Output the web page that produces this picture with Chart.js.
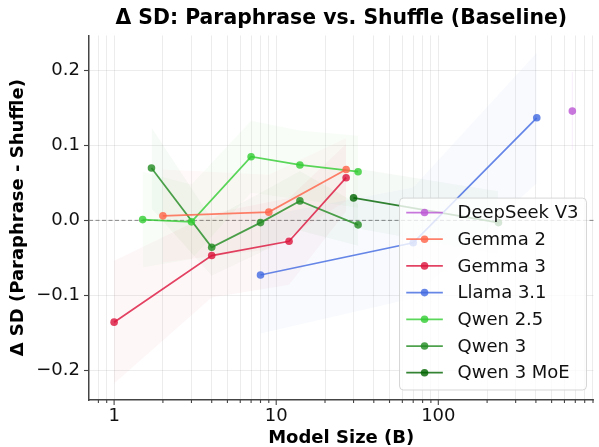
<!DOCTYPE html>
<html>
<head>
<meta charset="utf-8">
<script src="https://cdn.jsdelivr.net/npm/chart.js@4.4.1/dist/chart.umd.min.js"></script>
<style>
html, body { margin: 0; padding: 0; background: #fff; }
#wrap { width: 599px; height: 447px; }
</style>
</head>
<body>
<div id="wrap"><canvas id="deltaChart"></canvas></div>
<script>
// values (model size in B, delta SD, half width of shaded band)
var deepseekSize = [671];
var deepseekDelta = [0.146];
var deepseekErr = [0.052];

var gemma2Size = [2, 9, 27];
var gemma2Delta = [0.006, 0.011, 0.068];
var gemma2Err = [0.062, 0.05, 0.042];

var gemma3Size = [1, 4, 12, 27];
var gemma3Delta = [-0.136, -0.047, -0.028, 0.057];
var gemma3Err = [0.082, 0.056, 0.058, 0.045];

var llamaSize = [8, 70, 405];
var llamaDelta = [-0.073, -0.030, 0.137];
var llamaErr = [0.078, 0.074, 0.087];

var qwen25Size = [1.5, 3, 7, 14, 32];
var qwen25Delta = [0.001, -0.002, 0.085, 0.074, 0.065];
var qwen25Err = [0.064, 0.05, 0.048, 0.046, 0.048];

var qwen3Size = [1.7, 4, 8, 14, 32];
var qwen3Delta = [0.070, -0.036, -0.003, 0.026, -0.006];
var qwen3Err = [0.054, 0.038, 0.04, 0.04, 0.028];

var qwen3moeSize = [30, 235];
var qwen3moeDelta = [0.030, -0.003];
var qwen3moeErr = [0.04, 0.042];

var xMajor = [1, 10, 100];
var xGrid = [0.8, 0.9, 1, 2, 3, 4, 5, 6, 7, 8, 9, 10, 20, 30, 40, 50, 60, 70, 80, 90,
             100, 200, 300, 400, 500, 600, 700, 800, 900];
var yTicks = [-0.2, -0.1, 0, 0.1, 0.2];

var series = [
    { label: 'DeepSeek V3', rgb: '186, 85, 211', size: deepseekSize, delta: deepseekDelta, err: deepseekErr },
    { label: 'Gemma 2', rgb: '255, 99, 71', size: gemma2Size, delta: gemma2Delta, err: gemma2Err },
    { label: 'Gemma 3', rgb: '220, 20, 60', size: gemma3Size, delta: gemma3Delta, err: gemma3Err },
    { label: 'Llama 3.1', rgb: '65, 105, 225', size: llamaSize, delta: llamaDelta, err: llamaErr },
    { label: 'Qwen 2.5', rgb: '50, 205, 50', size: qwen25Size, delta: qwen25Delta, err: qwen25Err },
    { label: 'Qwen 3', rgb: '34, 139, 34', size: qwen3Size, delta: qwen3Delta, err: qwen3Err },
    { label: 'Qwen 3 MoE', rgb: '0, 100, 0', size: qwen3moeSize, delta: qwen3moeDelta, err: qwen3moeErr }
];

function pts(size, vals) {
    return size.map(function (s, i) { return { x: s, y: vals[i] }; });
}

var datasets = [];
series.forEach(function (s) {
    var lo = s.delta.map(function (d, i) { return d - s.err[i]; });
    var hi = s.delta.map(function (d, i) { return d + s.err[i]; });
    if (s.size.length === 1) {
        // single model: band collapses to a thin vertical stroke
        datasets.push({
            label: s.label + ' band',
            data: [{ x: s.size[0], y: lo[0] }, { x: s.size[0], y: hi[0] }],
            borderColor: 'rgba(' + s.rgb + ', 0.1)', borderWidth: 1,
            pointRadius: 0, fill: false, order: 3
        });
    } else {
        datasets.push({
            label: s.label + ' low', data: pts(s.size, lo),
            borderWidth: 0, borderColor: 'rgba(0,0,0,0)', pointRadius: 0, fill: false, order: 3
        });
        datasets.push({
            label: s.label + ' high', data: pts(s.size, hi),
            borderWidth: 0, borderColor: 'rgba(0,0,0,0)', pointRadius: 0,
            fill: '-1', backgroundColor: 'rgba(' + s.rgb + ', 0.035)', order: 3
        });
    }
    datasets.push({
        label: s.label, data: pts(s.size, s.delta), legend: true,
        borderColor: 'rgba(' + s.rgb + ', 0.8)', backgroundColor: 'rgba(' + s.rgb + ', 0.8)',
        pointBackgroundColor: 'rgba(' + s.rgb + ', 0.8)', pointBorderWidth: 0,
        pointRadius: 3.8, borderWidth: 1.75, tension: 0, fill: false, order: 1
    });
});

var zeroLine = {
    id: 'zeroLine',
    beforeDatasetsDraw: function (chart) {
        var ctx = chart.ctx, area = chart.chartArea;
        var y = chart.scales.y.getPixelForValue(0);
        ctx.save();
        ctx.strokeStyle = 'rgba(110, 110, 110, 0.8)';
        ctx.lineWidth = 1;
        ctx.setLineDash([4, 2.5]);
        ctx.beginPath();
        ctx.moveTo(area.left, y);
        ctx.lineTo(area.right, y);
        ctx.stroke();
        ctx.restore();
    }
};

var xTickMarks = {
    id: 'xTickMarks',
    afterDraw: function (chart) {
        var sc = chart.scales.x, ctx = chart.ctx;
        ctx.save();
        ctx.strokeStyle = '#444';
        ctx.lineWidth = 1.1;
        xGrid.forEach(function (v) {
            var px = sc.getPixelForValue(v);
            var len = xMajor.indexOf(v) >= 0 ? 5 : 3;
            ctx.beginPath();
            ctx.moveTo(px, sc.top);
            ctx.lineTo(px, sc.top + len);
            ctx.stroke();
        });
        ctx.restore();
    }
};

var legendBox = {
    id: 'legendBox',
    afterDraw: function (chart) {
        var ctx = chart.ctx, area = chart.chartArea;
        var items = chart.data.datasets.filter(function (d) { return d.legend; });
        ctx.save();
        ctx.font = '18px "DejaVu Sans"';
        var maxW = 0;
        items.forEach(function (d) { maxW = Math.max(maxW, ctx.measureText(d.label).width); });
        var rowH = 26.7;
        var w = 58 + maxW + 8, h = items.length * rowH + 5;
        var x = area.right - 7 - w, y = area.bottom - 10 - h;
        ctx.beginPath();
        ctx.roundRect(x, y, w, h, 4);
        ctx.fillStyle = 'rgba(255, 255, 255, 0.8)';
        ctx.fill();
        ctx.strokeStyle = 'rgba(204, 204, 204, 0.8)';
        ctx.lineWidth = 1;
        ctx.stroke();
        items.forEach(function (d, i) {
            var cy = y + 14.4 + i * rowH;
            ctx.strokeStyle = d.borderColor;
            ctx.lineWidth = 1.75;
            ctx.beginPath();
            ctx.moveTo(x + 6.7, cy);
            ctx.lineTo(x + 43.3, cy);
            ctx.stroke();
            ctx.fillStyle = d.pointBackgroundColor;
            ctx.beginPath();
            ctx.arc(x + 25, cy, 3.8, 0, Math.PI * 2);
            ctx.fill();
            ctx.fillStyle = '#111';
            ctx.textBaseline = 'middle';
            ctx.textAlign = 'left';
            ctx.fillText(d.label, x + 58, cy + 1);
        });
        ctx.restore();
    }
};

Chart.defaults.font.family = '"DejaVu Sans", sans-serif';
var gridColor = 'rgba(176, 176, 176, 0.3)';

var ctx = document.getElementById('deltaChart').getContext('2d');
var deltaChart = new Chart(ctx, {
    type: 'line',
    data: { datasets: datasets },
    plugins: [zeroLine, xTickMarks, legendBox],
    options: {
        responsive: true,
        maintainAspectRatio: false,
        animation: false,
        layout: { padding: 0 },
        plugins: {
            legend: { display: false },
            tooltip: { enabled: false },
            title: {
                display: true,
                fullSize: false,
                text: 'Δ SD: Paraphrase vs. Shuffle (Baseline)',
                color: '#000',
                font: { size: 20.4, weight: 'bold' },
                padding: { top: 6, bottom: 5 }
            }
        },
        scales: {
            x: {
                type: 'logarithmic',
                min: 0.725,
                max: 906,
                afterBuildTicks: function (scale) {
                    scale.ticks = xGrid.map(function (v) { return { value: v }; });
                },
                afterFit: function (scale) { scale.height = 47; },
                ticks: {
                    autoSkip: false, maxRotation: 0, minRotation: 0, padding: 6,
                    color: '#111', font: { size: 18 },
                    callback: function (v) { return xMajor.indexOf(v) >= 0 ? String(v) : ''; }
                },
                grid: { color: gridColor, lineWidth: 0.8, drawTicks: false },
                border: { color: '#444', width: 1.5 },
                title: {
                    display: true, text: 'Model Size (B)', color: '#000',
                    font: { size: 18, weight: 'bold', lineHeight: 1 },
                    padding: { top: 0, bottom: 0 }
                }
            },
            y: {
                min: -0.24,
                max: 0.247,
                afterBuildTicks: function (scale) {
                    scale.ticks = yTicks.map(function (v) { return { value: v }; });
                },
                afterFit: function (scale) { scale.width = 89; },
                ticks: {
                    padding: 4, color: '#111', font: { size: 18 },
                    callback: function (v) {
                        return (v < 0 ? '\u2212' : '') + Math.abs(v).toFixed(1);
                    }
                },
                grid: { color: gridColor, lineWidth: 0.8, tickColor: '#444', tickLength: 5, tickWidth: 1.1 },
                border: { color: '#444', width: 1.5 },
                title: {
                    display: true, text: 'Δ SD (Paraphrase - Shuffle)', color: '#000',
                    font: { size: 18, weight: 'bold' },
                    padding: { top: 8, bottom: 0 }
                }
            }
        }
    }
});
</script>
</body>
</html>
